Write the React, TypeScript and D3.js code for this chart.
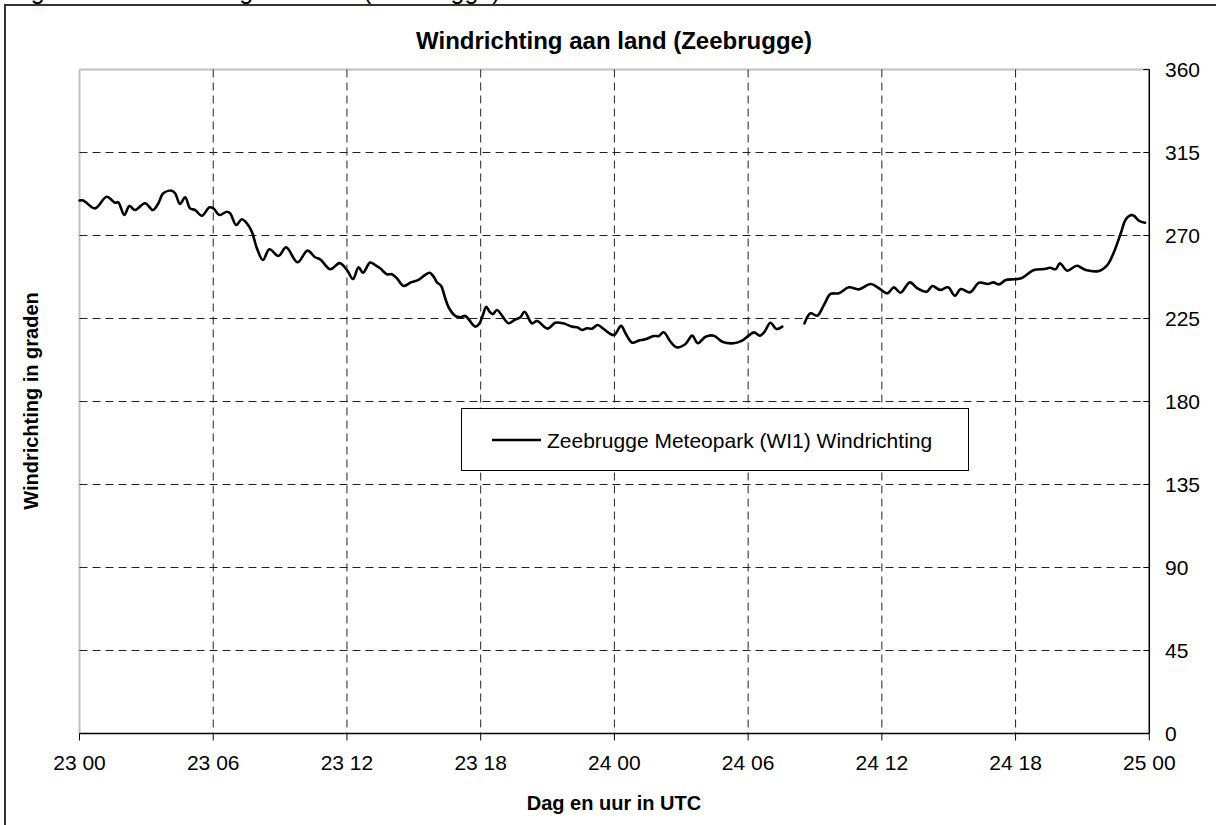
import React from "react";
import * as d3 from "d3";

// Hours since 23 00 UTC
const HOURS: number[] = [
  0, 0.17, 0.7, 1.22, 1.59, 1.74, 2.01, 2.24, 2.49, 2.94, 3.29, 3.54, 3.76, 4.14, 4.29, 4.51, 4.74, 4.96,
  5.19, 5.49, 5.83, 6.01, 6.28, 6.61, 6.76, 7.03, 7.28, 7.51, 7.73, 7.96, 8.23, 8.52, 8.93, 9.27, 9.78,
  10.23, 10.57, 10.8, 11.25, 11.67, 12.0, 12.27, 12.52, 12.72, 13.04, 13.27, 13.49, 13.79, 14.02, 14.24,
  14.54, 14.84, 15.21, 15.51, 15.71, 15.89, 16.04, 16.22, 16.41, 16.56, 16.86, 17.09, 17.31, 17.46, 17.76,
  17.95, 18.1, 18.25, 18.4, 18.55, 18.73, 19.25, 19.51, 19.78, 19.97, 20.3, 20.53, 21.0, 21.35, 21.7,
  22.1, 22.33, 22.55, 22.77, 23.0, 23.25, 23.52, 23.82, 24.0, 24.3, 24.5, 24.8, 25.09, 25.39, 25.77,
  25.99, 26.21, 26.52, 26.78, 27.19, 27.49, 27.74, 28.09, 28.46, 28.84, 29.36, 29.73, 30.03, 30.26,
  30.53, 30.74, 31.0, 31.27, 31.53, 32.0, 32.53, 32.8, 33.1, 33.4, 33.7, 34.07, 34.52, 34.97, 35.5,
  35.87, 36.25, 36.54, 36.84, 37.26, 37.59, 38.01, 38.27, 38.61, 38.97, 39.28, 39.54, 39.96, 40.36,
  40.76, 41.0, 41.26, 41.56, 41.93, 42.26, 42.83, 43.28, 43.55, 43.8, 43.99, 44.32, 44.75, 45.15,
  45.75, 46.12, 46.42, 46.72, 46.95, 47.2, 47.32, 47.54, 47.81,
];

// Wind direction in degrees (null = missing data)
const DEGREES: (number | null)[] = [
  289, 289, 284.7, 291, 287.8, 288, 281.1, 286, 283.8, 287.5, 283.8, 287.5, 292.9, 294.3, 292.9, 287.1,
  290.7, 284.7, 283.8, 280.7, 285.3, 284.7, 281.1, 282.9, 282, 275.7, 278.8, 276.6, 272.1, 263.1, 256.7,
  262.5, 258.9, 263.6, 255.5, 261.8, 258.2, 257.1, 251.7, 255, 251.3, 246.4, 252.8, 249.8, 255.3, 254,
  252.2, 249, 249, 246.8, 242.6, 244.4, 245.9, 248.6, 249.8, 247.7, 244.6, 242.8, 236, 231.1, 226.4,
  225.7, 226.4, 224.6, 220.6, 222.4, 226.9, 231.4, 228.7, 227.4, 229.6, 222.4, 224.2, 225.7, 228.7,
  222.4, 223.6, 219.5, 222.7, 222.4, 220.6, 220.2, 218.8, 219.7, 219.5, 221.5, 219.3, 216.6, 216.1,
  221, 217, 211.9, 213, 213.7, 215.5, 215.5, 217.5, 212.4, 209.4, 211.2, 215.7, 211.6, 215.1, 215.7,
  212.4, 211.6, 213, 215.7, 217.5, 215.7, 217.9, 222.7, 219.3, 220.6, null, 222.4, 227.8, 226.5, 232.3,
  238.3, 238.7, 241.9, 240.8, 243.7, 241.4, 238.7, 241.9, 239, 244.6, 241.4, 239.5, 242.6, 240.5,
  241.9, 237.4, 241, 239.2, 244.4, 243.7, 244.6, 243.5, 245.9, 246.3, 246.8, 251.3, 251.8, 252.5,
  251.7, 254.9, 250.9, 253.6, 251.3, 250.8, 254, 261.2, 271.2, 278.8, 281.1, 280.6, 278, 276.9,
];

const X_TICK_HOURS: number[] = [0, 6, 12, 18, 24, 30, 36, 42, 48];
const X_TICK_LABELS: string[] = ["23 00", "23 06", "23 12", "23 18", "24 00", "24 06", "24 12", "24 18", "25 00"];
const Y_TICKS: number[] = [0, 45, 90, 135, 180, 225, 270, 315, 360];

const TITLE = "Windrichting aan land (Zeebrugge)";
const PAGE_CAPTION = "Figuur 3: Windrichting aan land (Zeebrugge)";
const Y_TITLE = "Windrichting in graden";
const X_TITLE = "Dag en uur in UTC";
const SERIES_NAME = "Zeebrugge Meteopark (WI1) Windrichting";

const FONT = "'Liberation Sans', Arial, Helvetica, sans-serif";

export default function App() {
  const W = 1216;
  const H = 825;
  const left = 79.5;
  const right = 1149.3;
  const top = 69.5;
  const bottom = 733.5;

  const x = d3.scaleLinear().domain([0, 48]).range([left, right]);
  const y = d3.scaleLinear().domain([0, 360]).range([bottom, top]);

  const data = HOURS.map((h, i) => ({ h, v: DEGREES[i] }));
  const line = d3
    .line<{ h: number; v: number | null }>()
    .defined((d) => d.v != null)
    .x((d) => x(d.h))
    .y((d) => y(d.v as number))
    .curve(d3.curveCatmullRom.alpha(0.5));

  return (
    <div style={{ position: "absolute", left: 0, top: 0 }}>
      <svg width={W} height={H} style={{ display: "block", fontFamily: FONT }}>
        <rect x={0} y={0} width={W} height={H} fill="#ffffff" />
        {/* clipped page caption above the chart frame */}
        <text x={10} y={-1} fontSize={25} fill="#000">
          {PAGE_CAPTION}
        </text>
        {/* chart frame */}
        <rect x={5} y={5} width={W + 10} height={H + 10} fill="none" stroke="#333" strokeWidth={2} />

        {/* title */}
        <text x={614} y={49} textAnchor="middle" fontSize={24} fontWeight="bold">
          {TITLE}
        </text>

        {/* plot area border (gray) */}
        <line x1={left} x2={left} y1={top} y2={bottom} stroke="#c0c0c0" strokeWidth={2} />
        <line x1={left} x2={right} y1={top} y2={top} stroke="#c0c0c0" strokeWidth={2} />

        {/* horizontal gridlines */}
        {Y_TICKS.filter((t) => t !== 0 && t !== 360).map((t) => (
          <line
            key={"hg" + t}
            x1={left}
            x2={right}
            y1={y(t)}
            y2={y(t)}
            stroke="#222"
            strokeWidth={1}
            strokeDasharray="8,5"
          />
        ))}
        {/* vertical gridlines */}
        {X_TICK_HOURS.filter((t) => t !== 0 && t !== 48).map((t) => (
          <line
            key={"vg" + t}
            x1={x(t)}
            x2={x(t)}
            y1={top}
            y2={bottom}
            stroke="#222"
            strokeWidth={1}
            strokeDasharray="8,5"
          />
        ))}

        {/* axes */}
        <line x1={left} x2={right} y1={bottom} y2={bottom} stroke="#000" strokeWidth={1.5} />
        <line x1={right} x2={right} y1={top} y2={bottom} stroke="#000" strokeWidth={1.5} />
        {Y_TICKS.map((t) => (
          <g key={"yt" + t}>
            <line x1={right - 6} x2={right} y1={y(t)} y2={y(t)} stroke="#000" strokeWidth={1} />
            <text x={1165} y={y(t)} dy="0.35em" fontSize={21} fill="#000">
              {t}
            </text>
          </g>
        ))}
        {X_TICK_HOURS.map((t, i) => (
          <g key={"xt" + t}>
            <line x1={x(t)} x2={x(t)} y1={bottom} y2={bottom + 7} stroke="#000" strokeWidth={1} />
            <text x={x(t)} y={770} textAnchor="middle" fontSize={21} fill="#000">
              {X_TICK_LABELS[i]}
            </text>
          </g>
        ))}

        {/* data line */}
        <path
          d={line(data) || ""}
          fill="none"
          stroke="#000"
          strokeWidth={2.6}
          strokeLinejoin="round"
          strokeLinecap="round"
        />

        {/* legend */}
        <rect x={461.5} y={408.5} width={507} height={62} fill="#fff" stroke="#000" strokeWidth={1} />
        <line x1={492} x2={541} y1={440} y2={440} stroke="#000" strokeWidth={2.6} />
        <text x={547} y={447.5} fontSize={21} fill="#000">
          {SERIES_NAME}
        </text>

        {/* axis titles */}
        <text x={614} y={810} textAnchor="middle" fontSize={20} fontWeight="bold">
          {X_TITLE}
        </text>
        <text transform="translate(38,401) rotate(-90)" textAnchor="middle" fontSize={20} fontWeight="bold">
          {Y_TITLE}
        </text>
      </svg>
    </div>
  );
}
